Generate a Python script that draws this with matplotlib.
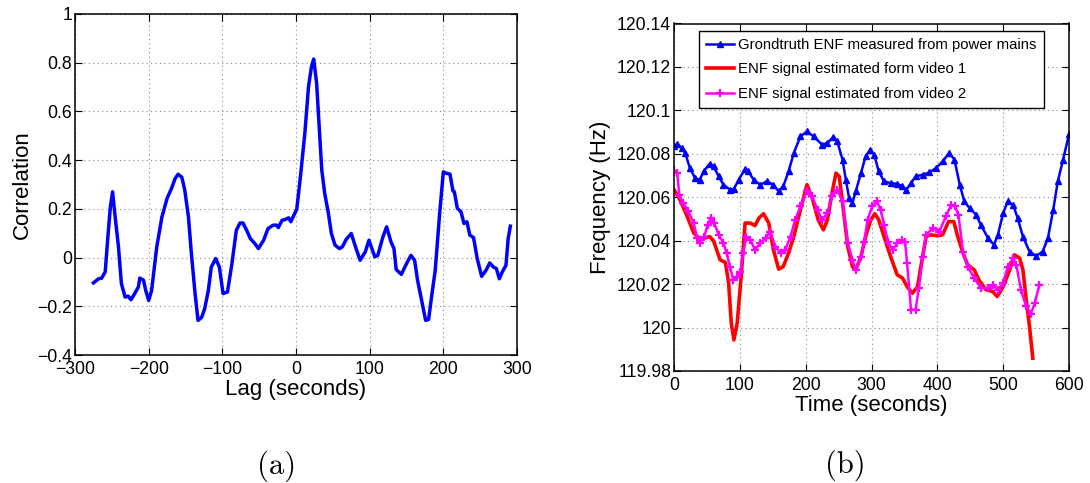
import matplotlib
matplotlib.use("Agg")
import matplotlib.pyplot as plt
from matplotlib.ticker import FuncFormatter

plt.rcParams["font.family"] = ["Liberation Sans", "DejaVu Sans"]
plt.rcParams["axes.unicode_minus"] = True

# (a) cross-correlation versus lag
lag = [-275, -268, -264, -259, -255, -252, -249, -246, -241, -237, -232, -228,
       -224, -219, -214, -212, -207, -204, -200, -196, -189, -182, -175, -169,
       -164, -160, -155, -151, -146, -142, -137, -133, -128, -124, -119, -115,
       -109, -104, -99, -93, -87, -81, -76, -72, -67, -62, -56, -51, -44, -38,
       -31, -26, -24, -19, -15, -10, -7, -4, 1, 6, 12, 17, 21, 24, 28, 32, 35,
       39, 44, 48, 53, 59, 63, 68, 75, 80, 87, 94, 99, 107, 111, 118, 123, 129,
       133, 136, 143, 150, 156, 161, 165, 171, 176, 180, 184, 189, 195, 200,
       204, 209, 213, 215, 219, 224, 228, 232, 236, 241, 246, 252, 258, 263,
       268, 272, 276, 280, 285, 288, 291]
corr = [-0.104, -0.087, -0.085, -0.059, 0.099, 0.208, 0.27, 0.181, 0.044,
        -0.107, -0.162, -0.158, -0.173, -0.148, -0.121, -0.084, -0.093, -0.135,
        -0.176, -0.135, 0.044, 0.167, 0.243, 0.284, 0.325, 0.342, 0.33, 0.277,
        0.167, 0.016, -0.148, -0.258, -0.245, -0.21, -0.135, -0.039, -0.004,
        -0.039, -0.148, -0.141, -0.025, 0.112, 0.142, 0.142, 0.112, 0.078,
        0.058, 0.037, 0.071, 0.119, 0.133, 0.133, 0.123, 0.153, 0.156, 0.163,
        0.147, 0.167, 0.198, 0.332, 0.51, 0.702, 0.784, 0.815, 0.716, 0.51,
        0.359, 0.263, 0.181, 0.099, 0.051, 0.037, 0.044, 0.074, 0.099, 0.051,
        -0.011, 0.023, 0.071, 0.003, 0.009, 0.085, 0.126, 0.064, 0.037, -0.049,
        -0.069, -0.025, 0.009, -0.011, -0.093, -0.183, -0.258, -0.254, -0.162,
        -0.052, 0.181, 0.352, 0.346, 0.343, 0.274, 0.27, 0.202, 0.188, 0.14,
        0.147, 0.092, 0.082, -0.004, -0.077, -0.052, -0.022, -0.039, -0.045,
        -0.087, -0.059, -0.032, 0.078, 0.129]

lag_ticks = [-300, -200, -100, 0, 100, 200, 300]
corr_ticks = [-0.4, -0.2, 0, 0.2, 0.4, 0.6, 0.8, 1]

# (b) ENF signals
t_grid = [0, 5, 12, 17, 24, 32, 39, 45, 54, 60, 68, 75, 85, 91, 98, 108, 113,
          121, 131, 141, 151, 159, 166, 174, 182, 192, 202, 212, 225, 233, 242,
          248, 256, 261, 266, 271, 276, 284, 291, 298, 304, 311, 319, 329, 339,
          347, 353, 360, 367, 378, 388, 398, 408, 418, 426, 434, 441, 449, 459,
          466, 477, 486, 492, 500, 507, 515, 522, 530, 540, 550, 560, 568, 576,
          583, 591, 600]
f_grid = [120.0834, 120.0845, 120.0827, 120.0804, 120.0735, 120.0688, 120.068,
          120.0719, 120.0754, 120.0742, 120.0696, 120.0658, 120.0635, 120.0638,
          120.068, 120.073, 120.0719, 120.068, 120.0658, 120.0673, 120.0658,
          120.0627, 120.065, 120.0719, 120.0804, 120.088, 120.0903, 120.088,
          120.0842, 120.085, 120.0877, 120.0857, 120.0773, 120.068, 120.0596,
          120.0573, 120.0627, 120.0711, 120.0788, 120.0819, 120.0796, 120.0719,
          120.0673, 120.0665, 120.0662, 120.065, 120.0635, 120.0665, 120.0696,
          120.0704, 120.0714, 120.0735, 120.0765, 120.0804, 120.0773, 120.0658,
          120.0581, 120.055, 120.0519, 120.0473, 120.0412, 120.0381, 120.0427,
          120.0527, 120.0581, 120.0565, 120.0504, 120.0419, 120.035, 120.033,
          120.035, 120.0412, 120.0542, 120.0673, 120.0773, 120.089]

t_v1 = [0, 9, 20, 30, 40, 47, 54, 60, 70, 78, 83, 87, 91, 96, 102, 108, 116,
        123, 129, 136, 144, 151, 159, 166, 174, 182, 192, 202, 210, 219, 227,
        233, 240, 246, 251, 256, 264, 271, 276, 284, 291, 299, 305, 311, 319,
        329, 339, 347, 354, 362, 370, 375, 383, 390, 400, 408, 417, 425, 431,
        439, 446, 456, 463, 474, 484, 491, 500, 510, 517, 525, 530, 535, 540,
        545]
f_v1 = [120.0635, 120.0589, 120.0512, 120.0435, 120.0407, 120.0412, 120.0419,
        120.04, 120.0312, 120.03, 120.0205, 120.002, 119.9943, 120.002,
        120.0235, 120.0481, 120.0481, 120.0469, 120.0504, 120.0524, 120.0481,
        120.0358, 120.0269, 120.0281, 120.0343, 120.0419, 120.0542, 120.0658,
        120.0596, 120.0496, 120.045, 120.0496, 120.0619, 120.0711, 120.0696,
        120.0573, 120.0373, 120.0281, 120.0266, 120.0327, 120.0419, 120.0496,
        120.0524, 120.0496, 120.0419, 120.0327, 120.0243, 120.0228, 120.0189,
        120.0158, 120.0189, 120.0281, 120.0419, 120.0427, 120.0423, 120.0427,
        120.0488, 120.0488, 120.0419, 120.0343, 120.0289, 120.0266, 120.022,
        120.0174, 120.0166, 120.0143, 120.0189, 120.0266, 120.0335, 120.032,
        120.0266, 120.0128, 120.0005, 119.9859]

t_v2 = [0, 5, 8, 14, 22, 30, 35, 40, 46, 51, 56, 61, 68, 75, 80, 85, 90, 96,
        101, 105, 110, 116, 123, 131, 139, 146, 154, 162, 169, 177, 184, 192,
        202, 210, 218, 225, 233, 240, 248, 256, 264, 271, 276, 284, 289, 294,
        301, 308, 314, 319, 325, 332, 339, 347, 351, 354, 360, 367, 372, 378,
        383, 393, 403, 413, 421, 427, 432, 439, 446, 456, 466, 477, 484, 492,
        500, 507, 515, 520, 527, 535, 542, 548, 555]
f_v2 = [120.0719, 120.0711, 120.0611, 120.0573, 120.0535, 120.0481, 120.0412,
        120.0389, 120.0419, 120.0473, 120.0504, 120.0481, 120.0427, 120.0389,
        120.0343, 120.0281, 120.022, 120.0235, 120.0258, 120.0343, 120.0419,
        120.0404, 120.0358, 120.0389, 120.0412, 120.0442, 120.0373, 120.0343,
        120.0358, 120.0419, 120.0496, 120.0558, 120.0627, 120.0604, 120.0542,
        120.0496, 120.0527, 120.0604, 120.0635, 120.0581, 120.0389, 120.0312,
        120.0266, 120.0327, 120.0396, 120.0496, 120.0558, 120.0581, 120.0542,
        120.0473, 120.0396, 120.0358, 120.0389, 120.0404, 120.0396, 120.0297,
        120.0082, 120.0082, 120.0182, 120.0327, 120.0427, 120.0458, 120.0442,
        120.0512, 120.0565, 120.0558, 120.0519, 120.035, 120.0281, 120.0228,
        120.0182, 120.0182, 120.0197, 120.0174, 120.0205, 120.0281, 120.032,
        120.0289, 120.0174, 120.0097, 120.0063, 120.0112, 120.0197]

time_ticks = [0, 100, 200, 300, 400, 500, 600]
freq_ticks = [119.98, 120.0, 120.02, 120.04, 120.06, 120.08, 120.1, 120.12, 120.14]

series_labels = ["Grondtruth ENF measured from power mains",
                 "ENF signal estimated form video 1",
                 "ENF signal estimated from video 2"]


def short_num(v, _pos=None):
    s = f"{v:.2f}".rstrip("0").rstrip(".")
    if s in ("-0", "0"):
        return "0"
    return s.replace("-", "\u2212")


def style_axes(ax):
    ax.grid(True, linestyle=(0, (1, 3)), color="#888888", linewidth=0.8)
    ax.tick_params(direction="in", length=5, width=0.8, top=True, right=True,
                   labelsize=12.7)
    ax.tick_params(axis="x", pad=4.5)
    ax.tick_params(axis="y", pad=2)
    for sp in ax.spines.values():
        sp.set_linewidth(1.1)
        sp.set_color("black")
    ax.xaxis.set_major_formatter(FuncFormatter(short_num))
    ax.yaxis.set_major_formatter(FuncFormatter(short_num))


fig = plt.figure(figsize=(10.9, 4.83), dpi=100)

ax1 = fig.add_axes([75 / 1090, 1 - 355 / 483, 442 / 1090, 341 / 483])
ax1.plot(lag, corr, color=(0, 0, 1), linewidth=2.5, solid_joinstyle="round")
ax1.set_xlim(-300, 300)
ax1.set_ylim(-0.4, 1)
ax1.set_xticks(lag_ticks)
ax1.set_yticks(corr_ticks)
style_axes(ax1)
ax1.set_xlabel("Lag (seconds)", fontsize=16, labelpad=0.5)
ax1.set_ylabel("Correlation", fontsize=16, labelpad=3)

ax2 = fig.add_axes([674 / 1090, 1 - 371 / 483, 395 / 1090, 347.5 / 483])
ax2.plot(t_grid, f_grid, color=(0, 0, 1), linewidth=1.8, marker="^",
         markersize=5, label=series_labels[0])
ax2.plot(t_v1, f_v1, color=(1, 0, 0), linewidth=2.6, label=series_labels[1])
ax2.plot(t_v2, f_v2, color=(1, 0, 1), linewidth=1.8, marker="+",
         markersize=6, markeredgewidth=1.6, label=series_labels[2])
ax2.set_xlim(0, 600)
ax2.set_ylim(119.98, 120.14)
ax2.set_xticks(time_ticks)
ax2.set_yticks(freq_ticks)
style_axes(ax2)
ax2.set_xlabel("Time (seconds)", fontsize=16, labelpad=0.5)
ax2.set_ylabel("Frequency (Hz)", fontsize=16, labelpad=4)

leg = ax2.legend(loc="upper left", bbox_to_anchor=(699 / 1090, 1 - 30.5 / 483),
                 bbox_transform=fig.transFigure, fontsize=10.7, frameon=True,
                 fancybox=False, framealpha=1, edgecolor="black",
                 handlelength=1.85, handletextpad=0.3, labelspacing=0.7,
                 borderpad=0.5, borderaxespad=0)
leg.get_frame().set_linewidth(1.0)

fig.text(277 / 1090, 1 - 466 / 483, "(a)", fontfamily="cmr10", fontsize=22,
         ha="center", va="center")
fig.text(845 / 1090, 1 - 465 / 483, "(b)", fontfamily="cmr10", fontsize=22,
         ha="center", va="center")

fig.savefig("out.png", dpi=100)
